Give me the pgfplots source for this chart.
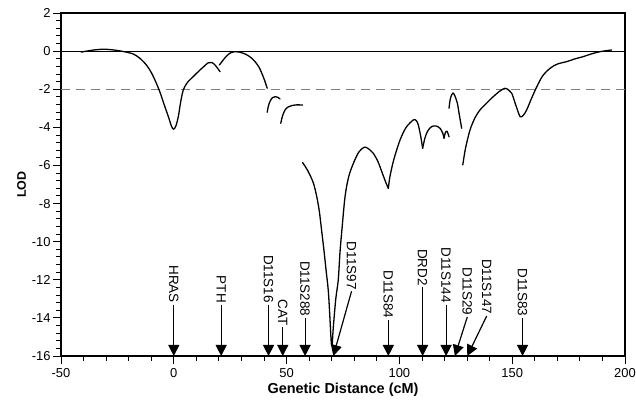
\documentclass[border=0pt]{standalone}
\usepackage{fontspec}
\setmainfont{Liberation Sans}
\usepackage{pgfplots}
\pgfplotsset{compat=1.18}
\usetikzlibrary{arrows.meta,calc}

\tikzset{
  curve/.style={black, line width=1.3pt, smooth, tension=0.5, line join=round, line cap=round},
  mk/.style={black, line width=1.2pt, -{Triangle[width=11bp,length=11bp]}},
  lab/.style={rotate=-90, anchor=east, inner sep=1.5pt, font=\fontsize{13.5}{15}\selectfont},
}

\begin{document}
\begin{tikzpicture}
\begin{axis}[
  scale only axis, width=564bp, height=343bp,
  xmin=-50, xmax=200, ymin=-16, ymax=2,
  xtick={-50,0,...,200}, ytick={-16,-14,...,2},
  minor x tick num=4, minor y tick num=4,
  tick pos=left, tick align=outside,
  major tick length=8bp, minor tick length=4.5bp,
  axis line style={line width=1.4pt},
  tick style={black, line width=0.9pt},
  /pgf/number format/assume math mode=true,
  ticklabel style={font=\fontsize{13}{15}\selectfont},
  xticklabel style={yshift=-1bp},
  yticklabel style={xshift=1bp},
  xlabel={\textbf{Genetic Distance (cM)}},
  ylabel={\textbf{LOD}},
  xlabel style={font=\fontsize{14.5}{16}\selectfont, yshift=1bp},
  ylabel style={font=\fontsize{12.5}{14}\selectfont, yshift=-1bp},
  clip=false,
]
% reference lines
\addplot[black, line width=0.9pt] coordinates {(-50,0) (200,0)};
\addplot[gray, line width=1pt, dash pattern=on 9bp off 6bp] coordinates {(-50,-2) (200,-2)};

% LOD curve segments
\addplot[curve] coordinates {
(-41,-0.05) (-36,0.05) (-31,0.1) (-26,0.05) (-22,-0.03) (-18,-0.15) (-15,-0.38)
(-12,-0.75) (-9.8,-1.16) (-7.5,-1.75) (-6,-2.2) (-4,-2.9) (-2.4,-3.44) (-1,-3.95)
(0,-4.1) (1,-3.9) (2,-3.44) (3,-2.7) (4.2,-2.04) (6,-1.65) (8.6,-1.34) (12,-0.95)
(15.3,-0.61) (16.8,-0.6) (18.3,-0.73) (20.5,-1.08)};
\addplot[curve] coordinates {
(20.2,-0.73) (22,-0.45) (23.4,-0.26) (25,-0.1) (27.1,-0.03) (29,-0.05) (31.6,-0.15)
(34,-0.32) (36,-0.55) (37.8,-0.85) (39,-1.16) (40.3,-1.55) (41.4,-1.95)};
\addplot[curve] coordinates {
(41.4,-3.21) (41.9,-2.9) (42.6,-2.65) (43.7,-2.45) (44.9,-2.39) (46,-2.42) (47.1,-2.51)};
\addplot[curve] coordinates {
(47.4,-3.79) (48.2,-3.4) (49.3,-3.09) (50.7,-2.93) (52.3,-2.86) (54.5,-2.82) (57.1,-2.83)};
\addplot[curve] coordinates {
(57.1,-5.85) (59.5,-6.3) (61.8,-6.9) (63.3,-7.6) (64.5,-8.4) (65.5,-9.39) (66.6,-10.5)
(67.5,-11.5) (68.5,-12.6) (69.2,-14) (69.8,-15.3) (70.2,-15.4) (70.7,-14.5) (71.8,-13)
(72.9,-12.0) (73.7,-10.5) (74.5,-9.4) (75.9,-7.64) (77.5,-6.6) (79.6,-5.89) (82,-5.3)
(84.3,-5.05) (86,-5.1) (88.4,-5.36) (90.5,-5.8) (92.2,-6.33) (94,-6.9) (95.1,-7.2)};
\addplot[curve] coordinates {
(95.1,-7.2) (95.8,-6.59) (97.5,-5.7) (100.3,-4.66) (103,-4.0) (106.2,-3.61) (107.5,-3.65)
(108.4,-3.88) (109.5,-4.5) (110.3,-5.1)};
\addplot[curve] coordinates {
(110.3,-5.1) (111.3,-4.57) (112.5,-4.2) (114.3,-3.96) (116.3,-3.93) (118,-4.05)
(119.2,-4.3) (119.8,-4.57)};
\addplot[curve] coordinates {
(119.8,-4.57) (120.3,-4.3) (121.1,-4.2) (122,-4.5)};
\addplot[curve] coordinates {
(122,-3.0) (122.5,-2.55) (123.2,-2.28) (123.8,-2.2) (124.6,-2.35) (125.7,-2.74)
(126.5,-3.3) (127.6,-4.05)};
\addplot[curve] coordinates {
(128.1,-5.97) (129.3,-5.1) (131.3,-4.14) (133.5,-3.5) (135.7,-3.09) (138.5,-2.75)
(141.6,-2.39) (144.5,-2.1) (146.8,-1.95) (148.5,-2.05) (149.8,-2.21) (151.5,-2.8)
(153.5,-3.44) (155,-3.35) (156.4,-3.09) (158.5,-2.5) (160.9,-1.87) (163.5,-1.3)
(166.8,-0.9) (170,-0.68) (174.2,-0.55) (178,-0.4) (181.5,-0.29) (185,-0.15)
(188.9,-0.03) (194.1,0.06)};

% marker arrows
\addplot[mk] coordinates {(0,-13.3) (0,-16)};
\addplot[mk] coordinates {(21,-13.3) (21,-16)};
\addplot[mk] coordinates {(42,-13.3) (42,-16)};
\addplot[mk] coordinates {(48.3,-14.5) (48.3,-16)};
\addplot[mk] coordinates {(58.2,-14.0) (58.2,-16)};
\addplot[mk] coordinates {(78.8,-12.6) (70.7,-16)};
\addplot[mk] coordinates {(95.1,-14.1) (95.1,-16)};
\addplot[mk] coordinates {(110.3,-12.4) (110.3,-16)};
\addplot[mk] coordinates {(120.7,-13.3) (120.7,-16)};
\addplot[mk] coordinates {(130.1,-13.95) (124.6,-16)};
\addplot[mk] coordinates {(138.7,-13.9) (130.1,-16)};
\addplot[mk] coordinates {(154.6,-14.0) (154.6,-16)};

\node[lab] at (axis cs:0,-13.3) {HRAS};
\node[lab] at (axis cs:21,-13.3) {PTH};
\node[lab] at (axis cs:42,-13.3) {D11S16};
\node[lab] at (axis cs:48.3,-14.5) {CAT};
\node[lab] at (axis cs:58.2,-14.0) {D11S288};
\node[lab] at (axis cs:78.8,-12.6) {D11S97};
\node[lab] at (axis cs:95.1,-14.1) {D11S84};
\node[lab] at (axis cs:110.3,-12.4) {DRD2};
\node[lab] at (axis cs:120.7,-13.3) {D11S144};
\node[lab] at (axis cs:130.1,-13.95) {D11S29};
\node[lab] at (axis cs:138.7,-13.9) {D11S147};
\node[lab] at (axis cs:154.6,-14.0) {D11S83};

\coordinate (ll) at (rel axis cs:0,0);
\coordinate (ur) at (rel axis cs:1,1);
\end{axis}
\pgfresetboundingbox
\path ($(ll)+(-61bp,-50bp)$) rectangle ($(ur)+(11bp,13bp)$);
\end{tikzpicture}
\end{document}
